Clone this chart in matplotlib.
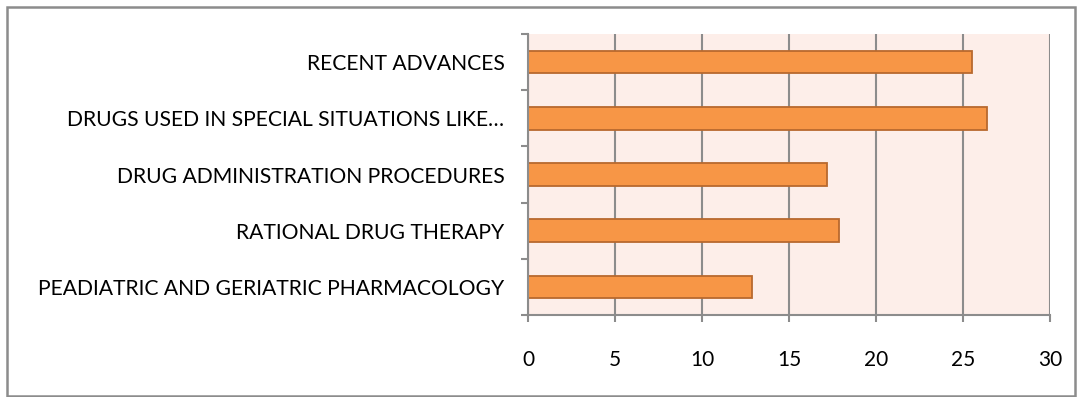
import matplotlib.pyplot as plt
from matplotlib.patches import Rectangle

topics = [
    "PEADIATRIC AND GERIATRIC PHARMACOLOGY",
    "RATIONAL DRUG THERAPY",
    "DRUG ADMINISTRATION PROCEDURES",
    "DRUGS USED IN SPECIAL SITUATIONS LIKE\u2026",
    "RECENT ADVANCES",
]
scores = [12.9, 17.9, 17.2, 26.4, 25.5]
xticks = [0, 5, 10, 15, 20, 25, 30]

plt.rcParams['font.family'] = ['Lato', 'DejaVu Sans']

fig = plt.figure(figsize=(10.78, 3.97), dpi=100)
ax = fig.add_axes([0.4898, 0.2065, 0.4842, 0.7079])
ax.set_facecolor('#FDEEE9')

ax.barh(range(len(topics)), scores, height=0.4, color='#F79646',
        edgecolor='#B8692E', linewidth=1.3, zorder=3)

ax.set_xlim(0, 30)
ax.set_ylim(-0.5, len(topics) - 0.5)
ax.set_xticks(xticks)
ax.set_xticklabels([str(t) for t in xticks])
ax.set_yticks([i - 0.5 for i in range(len(topics) + 1)], minor=False)
ax.set_yticklabels([])
ax.set_yticks(range(len(topics)), minor=True)
ax.set_yticklabels(topics, minor=True)
ax.tick_params(axis='y', which='minor', length=0, pad=17, labelsize=15.2)
ax.tick_params(axis='y', which='major', length=5, width=1.5, color='#8C8C8C')
ax.tick_params(axis='x', length=5, width=1.5, color='#8C8C8C', pad=20,
               labelsize=15)

ax.grid(axis='x', color='#8C8C8C', linewidth=1.5, zorder=1)
for side in ['top', 'right']:
    ax.spines[side].set_visible(False)
for side in ['left', 'bottom']:
    ax.spines[side].set_color('#8C8C8C')
    ax.spines[side].set_linewidth(1.5)
    ax.spines[side].set_zorder(4)

# border around the whole chart
fig.patches.append(Rectangle((7 / 1078, 1 / 397), 1068 / 1078, 389 / 397,
                             transform=fig.transFigure, fill=False,
                             edgecolor='#8C8C8C', linewidth=1.8))

fig.savefig('out.png', dpi=100)
